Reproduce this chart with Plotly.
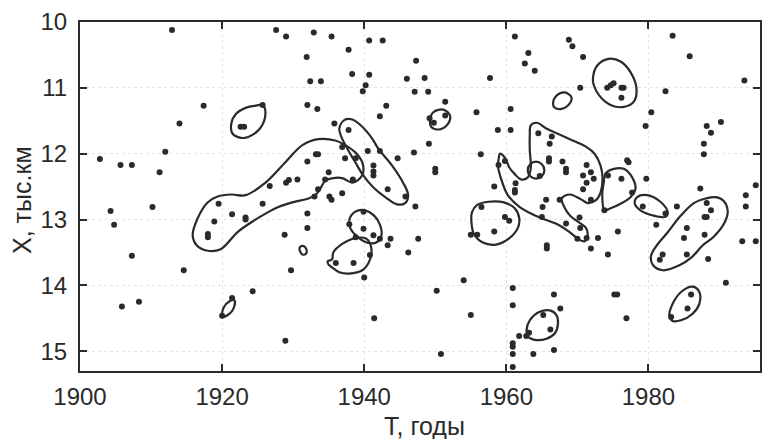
import plotly.graph_objects as go

# ---- data: observed points (T, years ; X, thousand km) ----
point_t = [
    1912.95, 1917.4, 1914.0, 1922.6, 1923.1, 1925.7, 1902.8, 1905.7, 1907.3, 1912.0,
    1911.2, 1904.3, 1910.2, 1904.8, 1907.3, 1914.6, 1908.3, 1905.9,
    1919.5, 1921.4, 1918.9, 1918.0, 1918.0, 1923.3, 1923.3, 1925.7, 1926.7,
    1929.0, 1929.4, 1930.6, 1932.0, 1933.2, 1933.5, 1932.0, 1932.0, 1928.8,
    1935.0, 1934.5, 1933.5, 1933.0, 1935.1, 1935.4, 1936.9, 1938.4, 1937.3,
    1936.9, 1938.8, 1940.5, 1942.2, 1941.3, 1941.3, 1941.3, 1944.7, 1947.0,
    1943.3, 1945.8, 1947.2, 1937.8, 1935.8, 1932.0, 1933.4, 1932.4, 1933.9,
    1931.9, 1927.6, 1929.0, 1932.9, 1935.4, 1937.8, 1938.3, 1939.8, 1940.2,
    1940.7, 1940.7, 1942.6, 1946.0, 1947.1, 1947.3, 1943.1, 1942.2, 1948.5,
    1949.0, 1951.4, 1949.8, 1949.2, 1951.4, 1955.8, 1957.7, 1961.2, 1963.1,
    1962.6, 1964.0, 1968.8, 1969.3, 1970.8, 1970.4, 1960.6, 1958.8, 1960.6,
    1964.5, 1966.4, 1974.2, 1974.7, 1975.1, 1976.2, 1976.5, 1976.2, 1983.4,
    1985.8, 1993.5, 1982.4, 1980.4, 1979.6, 1988.2, 1988.8, 1990.2,
    1949.1, 1950.0, 1950.0, 1956.4, 1947.6, 1958.3, 1958.9, 1959.8, 1961.3,
    1961.2, 1961.2, 1966.1, 1966.0, 1966.0, 1967.9, 1968.4, 1968.4, 1971.3,
    1971.9, 1970.8, 1972.3, 1971.3, 1970.8, 1971.9, 1964.7, 1965.6, 1965.1,
    1965.0, 1967.5, 1968.4, 1970.3, 1970.4, 1970.0, 1965.7, 1965.7,
    1956.5, 1959.8, 1960.4, 1958.3, 1955.0, 1955.9, 1977.0, 1977.2, 1974.3,
    1976.2, 1977.7, 1979.7, 1973.8, 1979.2, 1982.4, 1984.0, 1987.3, 1987.8,
    1987.8, 1988.2, 1988.8, 1987.9, 1988.2, 1985.4, 1987.9, 1985.0, 1981.1,
    1975.7, 1972.9, 1971.9, 1974.3, 1982.0, 1985.4, 1993.7, 1993.7, 1995.1,
    1993.2, 1995.1, 1971.3, 1981.6, 1988.4, 1990.9,
    1940.0, 1938.5, 1936.0, 1940.8, 1939.9, 1941.3, 1937.9, 1939.9, 1942.2,
    1943.7, 1943.3, 1946.2, 1938.8, 1941.4, 1929.7, 1924.3, 1921.4, 1920.0,
    1928.9, 1950.2, 1954.0, 1955.0, 1950.8, 1960.9, 1960.9, 1960.9, 1960.9,
    1960.9, 1960.9, 1961.8, 1963.2, 1962.8, 1965.2, 1966.2, 1966.7, 1967.6,
    1963.8, 1966.7, 1975.2, 1975.6, 1976.9, 1986.0, 1985.5, 1983.2,
]
point_x = [
    10.12, 11.27, 11.54, 11.59, 11.59, 11.26, 12.08, 12.17, 12.17, 11.97,
    12.28, 12.87, 12.81, 13.08, 13.55, 13.77, 14.25, 14.32,
    12.76, 12.92, 13.03, 13.22, 13.27, 12.97, 13.00, 12.76, 12.49,
    12.44, 12.40, 12.39, 12.12, 12.01, 12.01, 12.91, 13.13, 13.23,
    12.28, 12.39, 12.54, 12.65, 12.65, 12.70, 12.60, 12.39, 12.07,
    11.90, 12.07, 11.96, 11.96, 12.18, 12.27, 12.33, 12.07, 11.98,
    12.54, 12.65, 12.80, 11.64, 11.54, 11.26, 11.32, 10.90, 10.90,
    10.53, 10.12, 10.22, 10.16, 10.22, 10.42, 10.79, 11.05, 10.96,
    10.80, 10.28, 10.28, 10.86, 11.06, 10.59, 11.27, 11.43, 10.85,
    11.06, 11.21, 11.53, 11.46, 11.42, 11.37, 10.85, 10.22, 10.47,
    10.63, 10.74, 10.27, 10.37, 10.53, 11.00, 11.32, 11.64, 11.64,
    11.69, 11.74, 11.00, 10.96, 10.93, 11.00, 11.00, 11.15, 10.21,
    10.52, 10.89, 11.05, 11.37, 11.58, 11.58, 11.68, 11.52,
    11.85, 12.23, 12.28, 12.01, 13.29, 12.50, 12.17, 12.11, 12.45,
    12.55, 12.59, 11.85, 12.07, 12.12, 12.12, 12.23, 12.28, 12.17,
    12.28, 12.33, 12.38, 12.44, 12.54, 12.70, 12.34, 12.70, 12.81,
    12.96, 12.70, 13.06, 12.97, 13.13, 13.29, 13.39, 13.44,
    12.81, 12.96, 13.02, 13.18, 13.23, 13.23, 12.10, 12.13, 12.33,
    12.38, 12.59, 12.38, 12.86, 12.80, 12.91, 12.80, 12.53, 11.85,
    12.01, 12.75, 12.86, 12.96, 12.96, 13.13, 13.23, 13.28, 13.08,
    13.18, 13.28, 13.44, 13.53, 13.53, 13.53, 12.63, 12.80, 12.48,
    13.33, 13.33, 13.28, 13.61, 13.60, 13.96,
    13.88, 13.66, 13.66, 13.54, 13.14, 13.24, 13.07, 12.88, 13.29,
    13.29, 13.39, 13.50, 13.27, 14.50, 13.77, 14.09, 14.19, 14.46,
    14.84, 14.08, 13.92, 14.45, 15.04, 14.04, 14.30, 14.88, 14.93,
    15.04, 15.24, 14.77, 14.72, 14.77, 14.45, 14.67, 14.14, 14.35,
    15.04, 14.98, 14.14, 14.14, 14.50, 14.14, 14.35, 14.48,
]

# ---- data: hand-traced density contours, (T, X) vertices ----
contour_a = [(1925.7, 11.26), (1926.1, 11.39), (1925.3, 11.62), (1923.2, 11.76), (1921.5, 11.70),
             (1921.3, 11.54), (1922.0, 11.39), (1923.4, 11.30), (1924.8, 11.27)]
contour_b = [(1915.86, 13.24), (1916.56, 12.98), (1917.96, 12.74), (1919.37, 12.65), (1921.33, 12.62),
             (1923.30, 12.63), (1926.11, 12.44), (1928.91, 12.13), (1931.30, 11.87), (1933.54, 11.78),
             (1935.93, 11.80), (1937.33, 11.87), (1938.74, 11.98), (1939.72, 12.13), (1939.86, 12.28),
             (1939.44, 12.37), (1938.32, 12.44), (1936.91, 12.37), (1935.65, 12.37), (1934.53, 12.41),
             (1933.82, 12.53), (1933.12, 12.63), (1932.14, 12.68), (1929.89, 12.74), (1927.93, 12.81),
             (1926.11, 12.91), (1924.28, 13.03), (1922.18, 13.19), (1919.79, 13.45), (1917.82, 13.47),
             (1916.42, 13.39)]
contour_c = [(1937.19, 11.49), (1938.32, 11.48), (1939.72, 11.59), (1941.12, 11.77), (1941.96, 11.92),
             (1943.93, 12.18), (1945.47, 12.44), (1946.18, 12.63), (1945.75, 12.75), (1944.63, 12.77),
             (1942.95, 12.66), (1941.26, 12.51), (1939.86, 12.33), (1938.74, 12.13), (1937.61, 11.92),
             (1936.77, 11.74), (1936.49, 11.62)]
contour_d = [(1949.26, 11.49), (1949.73, 11.37), (1951.13, 11.33), (1952.07, 11.42), (1951.83, 11.54),
             (1950.67, 11.63), (1949.50, 11.60)]
contour_e = [(1966.57, 11.24), (1967.05, 11.12), (1968.21, 11.07), (1969.15, 11.14), (1968.91, 11.24),
             (1967.75, 11.32), (1966.81, 11.30)]
contour_f = [(1972.18, 10.86), (1972.80, 10.66), (1974.43, 10.56), (1976.07, 10.60), (1977.47, 10.76),
             (1978.32, 11.01), (1977.94, 11.21), (1976.53, 11.29), (1974.67, 11.26), (1973.03, 11.11),
             (1972.32, 10.96)]
contour_g = [(1959.09, 12.00), (1959.86, 12.07), (1960.42, 12.21), (1961.19, 12.31), (1962.04, 12.39),
             (1963.02, 12.36), (1963.44, 12.22), (1963.30, 11.95), (1963.30, 11.72), (1963.44, 11.57),
             (1964.28, 11.53), (1965.68, 11.62), (1967.09, 11.69), (1969.33, 11.80), (1971.30, 11.90),
             (1972.42, 12.00), (1973.26, 12.18), (1973.54, 12.37), (1973.26, 12.59), (1972.56, 12.71),
             (1971.44, 12.75), (1970.46, 12.69), (1968.91, 12.62), (1967.79, 12.68), (1968.21, 12.82),
             (1969.05, 12.95), (1970.18, 13.04), (1971.16, 13.12), (1971.44, 13.24), (1971.02, 13.33),
             (1970.18, 13.30), (1968.91, 13.19), (1966.95, 13.06), (1964.70, 12.97), (1961.89, 12.81),
             (1960.21, 12.63), (1959.23, 12.37), (1958.81, 12.18), (1958.95, 12.06)]
contour_k = [(1965.35, 12.25), (1965.00, 12.16), (1964.18, 12.12), (1963.35, 12.16), (1963.01, 12.25),
             (1963.35, 12.34), (1964.18, 12.38), (1965.00, 12.34)]
contour_h = [(1973.96, 12.30), (1975.13, 12.23), (1976.53, 12.23), (1977.71, 12.36), (1978.18, 12.53),
             (1977.47, 12.66), (1976.07, 12.76), (1974.67, 12.83), (1973.82, 12.86), (1973.50, 12.63),
             (1973.72, 12.43)]
contour_i = [(1978.41, 12.66), (1979.82, 12.63), (1981.68, 12.73), (1982.71, 12.89), (1982.39, 12.96),
             (1980.74, 12.94), (1978.88, 12.86), (1978.08, 12.76)]
contour_j = [(1981.05, 13.41), (1982.74, 13.19), (1984.56, 12.94), (1986.39, 12.75), (1988.07, 12.68),
             (1989.47, 12.66), (1990.60, 12.72), (1991.16, 12.88), (1990.74, 13.04), (1989.19, 13.26),
             (1987.65, 13.39), (1986.11, 13.57), (1984.42, 13.69), (1982.04, 13.77), (1980.63, 13.69),
             (1980.35, 13.56)]
contour_l = [(1955.16, 12.89), (1955.86, 12.78), (1957.54, 12.73), (1959.65, 12.74), (1961.19, 12.83),
             (1961.82, 12.98), (1961.61, 13.13), (1960.35, 13.29), (1958.53, 13.38), (1956.70, 13.35),
             (1955.44, 13.22), (1955.09, 13.04)]
contour_m = [(1962.84, 14.68), (1963.30, 14.53), (1964.70, 14.40), (1966.11, 14.38), (1967.05, 14.45),
             (1967.27, 14.58), (1966.81, 14.73), (1965.64, 14.81), (1964.24, 14.83), (1963.06, 14.78)]
contour_n = [(1982.95, 14.45), (1983.41, 14.28), (1984.59, 14.10), (1986.22, 14.02), (1987.16, 14.10),
             (1987.16, 14.28), (1986.22, 14.43), (1984.59, 14.53), (1983.41, 14.54)]
contour_p = [(1937.89, 13.01), (1938.74, 12.88), (1940.14, 12.86), (1941.40, 12.94), (1942.25, 13.09),
             (1942.39, 13.26), (1941.68, 13.35), (1940.42, 13.35), (1939.02, 13.26), (1938.04, 13.13)]
contour_o = [(1935.65, 13.50), (1936.91, 13.37), (1938.88, 13.28), (1940.28, 13.29), (1940.98, 13.42),
             (1940.77, 13.62), (1939.72, 13.77), (1937.89, 13.82), (1936.49, 13.80), (1935.51, 13.73),
             (1934.95, 13.68), (1934.88, 13.63), (1935.23, 13.62), (1935.50, 13.60)]
contour_q = [(1930.95, 13.42), (1931.40, 13.40), (1931.85, 13.45), (1931.80, 13.52), (1931.30, 13.53),
             (1930.95, 13.48)]
contour_r = [(1920.03, 14.48), (1920.21, 14.34), (1921.05, 14.24), (1921.75, 14.23), (1921.61, 14.35),
             (1921.05, 14.43)]

contours = [contour_a, contour_b, contour_c, contour_d, contour_e, contour_f, contour_g, contour_k,
            contour_h, contour_i, contour_j, contour_l, contour_m, contour_n, contour_p, contour_o,
            contour_q, contour_r]

x_tick_vals = [1900, 1920, 1940, 1960, 1980]
y_tick_vals = [10, 11, 12, 13, 14, 15]
x_title = "T, годы"
y_title = "X, тыс.км"

INK = "#2a2a2a"
TXT = "#2a2a2a"
fig = go.Figure()

for c in contours:
    ts = [p[0] for p in c] + [c[0][0]]
    xs = [p[1] for p in c] + [c[0][1]]
    fig.add_trace(go.Scatter(x=ts, y=xs, mode="lines",
                             line=dict(color=INK, width=2.2, shape="spline", smoothing=1.0),
                             hoverinfo="skip", showlegend=False))

fig.add_trace(go.Scatter(x=point_t, y=point_x, mode="markers",
                         marker=dict(color=INK, size=6),
                         showlegend=False))

font = dict(family="Liberation Sans, Arial, sans-serif", color=TXT)

axis_common = dict(ticks="inside", ticklen=7, tickwidth=2, tickcolor=INK, showline=True,
                   linecolor=INK, linewidth=2, mirror="ticks", showgrid=True,
                   gridcolor="#e4e4e4", griddash="dot", gridwidth=1, zeroline=False,
                   tickfont=dict(size=24, color=TXT))

fig.update_layout(
    width=762, height=439,
    margin=dict(l=80, r=0, t=22, b=68),
    paper_bgcolor="white", plot_bgcolor="white",
    font=font,
    xaxis=dict(range=[1900, 1995.7], tickvals=x_tick_vals, ticklabelstandoff=3, **axis_common),
    yaxis=dict(range=[15.3, 10.0], tickvals=y_tick_vals, ticklabelstandoff=6, **axis_common),
    annotations=[
        dict(text=x_title, xref="paper", yref="paper", x=0.506, y=0, yshift=-55,
             xanchor="center", yanchor="middle", showarrow=False,
             font=dict(size=25, color=TXT)),
        dict(text=y_title, xref="paper", yref="paper", x=0, xshift=-58, y=0.49,
             xanchor="center", yanchor="middle", textangle=-90, showarrow=False,
             font=dict(size=25, color=TXT)),
    ],
)

fig.write_html("out.html")
